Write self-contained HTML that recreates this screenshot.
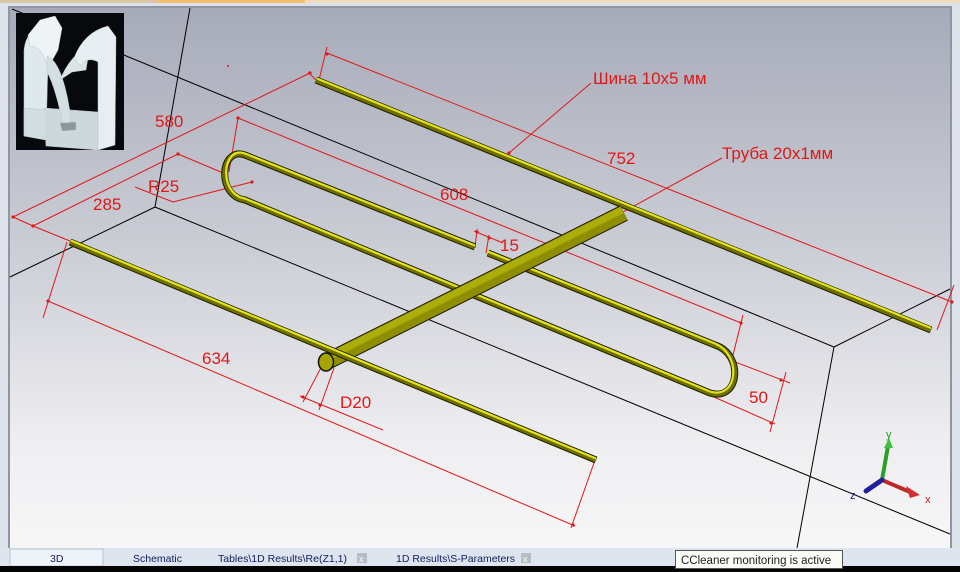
<!DOCTYPE html>
<html><head><meta charset="utf-8"><style>
html,body{margin:0;padding:0;width:960px;height:572px;overflow:hidden;background:#000}
svg{display:block}
text{font-family:"Liberation Sans","DejaVu Sans",sans-serif}
</style></head><body>
<svg width="960" height="572" viewBox="0 0 960 572" xmlns="http://www.w3.org/2000/svg">
<defs>
<linearGradient id="bg" x1="0" y1="0" x2="0" y2="1">
<stop offset="0" stop-color="#a7abb9"/>
<stop offset="0.45" stop-color="#ccced6"/>
<stop offset="0.8" stop-color="#eeeef1"/>
<stop offset="1" stop-color="#f7f7f8"/>
</linearGradient>
</defs>
<rect x="0" y="0" width="960" height="572" fill="#dde2ea"/>
<rect x="0" y="0" width="157" height="3" fill="#d9c6a4"/>
<rect x="157" y="0" width="148" height="3" fill="#f2bf6c"/>
<rect x="305" y="0" width="655" height="3" fill="#efdcbc"/>
<rect x="8" y="6" width="944" height="543" fill="#8e96a6"/>
<rect x="10" y="8" width="940" height="540" fill="url(#bg)"/>
<g stroke="#000" stroke-width="1" fill="none">
<line x1="190" y1="8" x2="155" y2="207"/>
<line x1="155" y1="207" x2="10" y2="277"/>
<line x1="155" y1="207" x2="950" y2="534"/>
<line x1="12" y1="9" x2="834" y2="347"/>
<line x1="834" y1="347" x2="950" y2="289"/>
<line x1="834" y1="347" x2="797" y2="548"/>
</g>
<!-- thumbnail -->
<rect x="16" y="13" width="108" height="137" fill="#08090c"/>
<g stroke="#b9c6cb" stroke-width="0.5">
<path d="M24,50 Q26,30 44,25 L48,60 L46,140 L24,136 Z" fill="#dfe8ec"/>
<path d="M28,35 L40,20 L55,16 L62,28 L58,50 L48,68 Q42,46 30,46 Z" fill="#eef3f5"/>
<path d="M44,108 L98,112 L98,150 L46,146 Z" fill="#cdd8dc"/>
<path d="M24,108 L46,110 L46,140 L24,136 Z" fill="#d2dde1"/>
<path d="M47,56 Q64,62 72,126 L64,130 Q56,88 47,72Z" fill="#d4dfe3"/>
<path d="M60,80 Q70,55 90,45 L86,70 L72,72 Z" fill="#dbe5e8"/>
<path d="M74,58 Q84,32 108,26 L116,37 L115,145 L98,150 L98,62 Q88,56 80,66 Z" fill="#e6eef1"/>
<path d="M60,123 L76,122 L76,130 L62,131Z" fill="#8a989e"/>
</g>
<g stroke="#e01818" stroke-width="1" fill="none">
<line x1="13" y1="217" x2="310" y2="73"/>
<line x1="308" y1="72" x2="316" y2="80"/>
<line x1="13" y1="217" x2="33" y2="226"/>
<line x1="33" y1="226" x2="178" y2="154"/>
<line x1="33" y1="226" x2="70" y2="241"/>
<line x1="178" y1="154" x2="228" y2="175"/>
<line x1="327" y1="47" x2="319" y2="80"/>
<line x1="327" y1="53" x2="952" y2="302"/>
<line x1="954" y1="285" x2="937" y2="330"/>
<line x1="509" y1="153" x2="591" y2="83"/>
<line x1="612" y1="218" x2="722" y2="158"/>
<line x1="238" y1="118" x2="741" y2="323"/>
<line x1="238" y1="118" x2="229" y2="172"/>
<line x1="743" y1="315" x2="733" y2="355"/>
<line x1="477" y1="229" x2="475" y2="248"/>
<line x1="489" y1="235" x2="486" y2="253"/>
<line x1="474" y1="231" x2="503" y2="243"/>
<line x1="730" y1="360" x2="790" y2="383"/>
<line x1="705" y1="393" x2="775" y2="424"/>
<line x1="786" y1="372" x2="770" y2="432"/>
<polyline points="135,187 173,202 228,188 252,182"/>
<line x1="67" y1="242" x2="43" y2="318"/>
<line x1="48" y1="301" x2="575" y2="526"/>
<line x1="595" y1="460" x2="571" y2="528"/>
<line x1="325" y1="360" x2="303" y2="402"/>
<line x1="334" y1="368" x2="319" y2="410"/>
<line x1="300" y1="396" x2="383" y2="430"/>
</g>
<g fill="#e01818">
<circle cx="13" cy="217" r="1.6"/><circle cx="33" cy="226" r="1.6"/><circle cx="178" cy="154" r="1.6"/>
<circle cx="310" cy="73" r="1.6"/><circle cx="327" cy="54" r="1.6"/><circle cx="952" cy="302" r="1.6"/>
<circle cx="509" cy="153" r="1.6"/><circle cx="612" cy="218" r="1.6"/><circle cx="238" cy="118" r="1.6"/>
<circle cx="741" cy="323" r="1.6"/><circle cx="477" cy="232" r="1.6"/><circle cx="489" cy="238" r="1.6"/>
<circle cx="781" cy="380" r="1.6"/><circle cx="771" cy="423" r="1.6"/><circle cx="252" cy="182" r="1.6"/>
<circle cx="228" cy="188" r="1.6"/><circle cx="48" cy="301" r="1.6"/><circle cx="573" cy="525" r="1.6"/>
<circle cx="303" cy="397" r="1.6"/><circle cx="320" cy="405" r="1.6"/><circle cx="228" cy="66" r="1"/>
</g>
<g fill="#e01818" font-size="17">
<text x="593" y="84">Шина 10x5 мм</text>
<text x="722" y="159">Труба 20x1мм</text>
<text x="607" y="164">752</text>
<text x="440" y="200">608</text>
<text x="155" y="127">580</text>
<text x="93" y="210">285</text>
<text x="148" y="192">R25</text>
<text x="500" y="251">15</text>
<text x="749" y="403">50</text>
<text x="202" y="364">634</text>
<text x="340" y="408">D20</text>
</g>
<g fill="none" stroke-linecap="butt" stroke-linejoin="round">
<line x1="316" y1="80" x2="931" y2="330" stroke="#1a1a00" stroke-width="7"/>
<line x1="316" y1="80" x2="931" y2="330" stroke="#6f6f00" stroke-width="5"/>
<line x1="317" y1="78.5" x2="931" y2="328" stroke="#e4e41c" stroke-width="2.2"/>
<path d="M475,247 L245,155 C220,146 216,196 245,200 L710,393 C740,402 744,354 715,345 L488,253" stroke="#1a1a00" stroke-width="7"/>
<path d="M475,247 L245,155 C220,146 216,196 245,200 L710,393 C740,402 744,354 715,345 L488,253" stroke="#6f6f00" stroke-width="5"/>
<path d="M475,245.5 L245,153.5 C222,145 218,194 245,198.5 L710,391.5 C738,400 742,355 715,343.5 L488,251.5" stroke="#e4e41c" stroke-width="2.2"/>
<line x1="326" y1="362" x2="624" y2="213" stroke="#1a1a00" stroke-width="17"/>
<line x1="326" y1="362" x2="624" y2="213" stroke="#8e8e04" stroke-width="15"/>
<line x1="326" y1="358" x2="622" y2="210" stroke="#adad0a" stroke-width="7"/>
<ellipse cx="326" cy="362" rx="7.5" ry="9" fill="#a5a500" stroke="#111" stroke-width="1.5"/>
<line x1="70" y1="242" x2="596" y2="460" stroke="#1a1a00" stroke-width="7"/>
<line x1="70" y1="242" x2="596" y2="460" stroke="#6f6f00" stroke-width="5"/>
<line x1="71" y1="240.5" x2="596" y2="458.5" stroke="#e4e41c" stroke-width="2.2"/>
</g>
<g stroke-linecap="round">
<line x1="882" y1="480" x2="888" y2="446" stroke="#2aa02a" stroke-width="4"/>
<polygon points="884,448 893,448 889,438" fill="#40c040"/>
<line x1="882" y1="480" x2="910" y2="492" stroke="#c02828" stroke-width="4"/>
<polygon points="906,486 910,498 920,495" fill="#d03030"/>
<line x1="882" y1="480" x2="866" y2="491" stroke="#20209a" stroke-width="5"/>
</g>
<text x="886" y="438" font-size="11" fill="#20a020">y</text>
<text x="925" y="503" font-size="11" fill="#c02020">x</text>
<text x="850" y="499" font-size="11" fill="#202090">z</text>
<rect x="0" y="548" width="960" height="18" fill="#dfe5ee"/>
<rect x="10" y="549" width="93" height="17" fill="#eef3fa" stroke="#b7c3d3"/>
<g font-size="10.5" fill="#142060">
<text x="50" y="562">3D</text>
<text x="133" y="562">Schematic</text>
<text x="218" y="562">Tables\1D Results\Re(Z1,1)</text>
<text x="396" y="562">1D Results\S-Parameters</text>
</g>
<rect x="357" y="553" width="10" height="10" fill="#b8bcc4"/>
<text x="359" y="562" font-size="9" fill="#fff">x</text>
<rect x="521" y="553" width="10" height="10" fill="#b8bcc4"/>
<text x="523" y="562" font-size="9" fill="#fff">x</text>
<rect x="0" y="566" width="960" height="6" fill="#050505"/>
<rect x="675.5" y="550.5" width="167" height="18" fill="#fbfbf5" stroke="#555"/>
<text x="681" y="564" font-size="11.5" fill="#222">CCleaner monitoring is active</text>
</svg>
</body></html>
